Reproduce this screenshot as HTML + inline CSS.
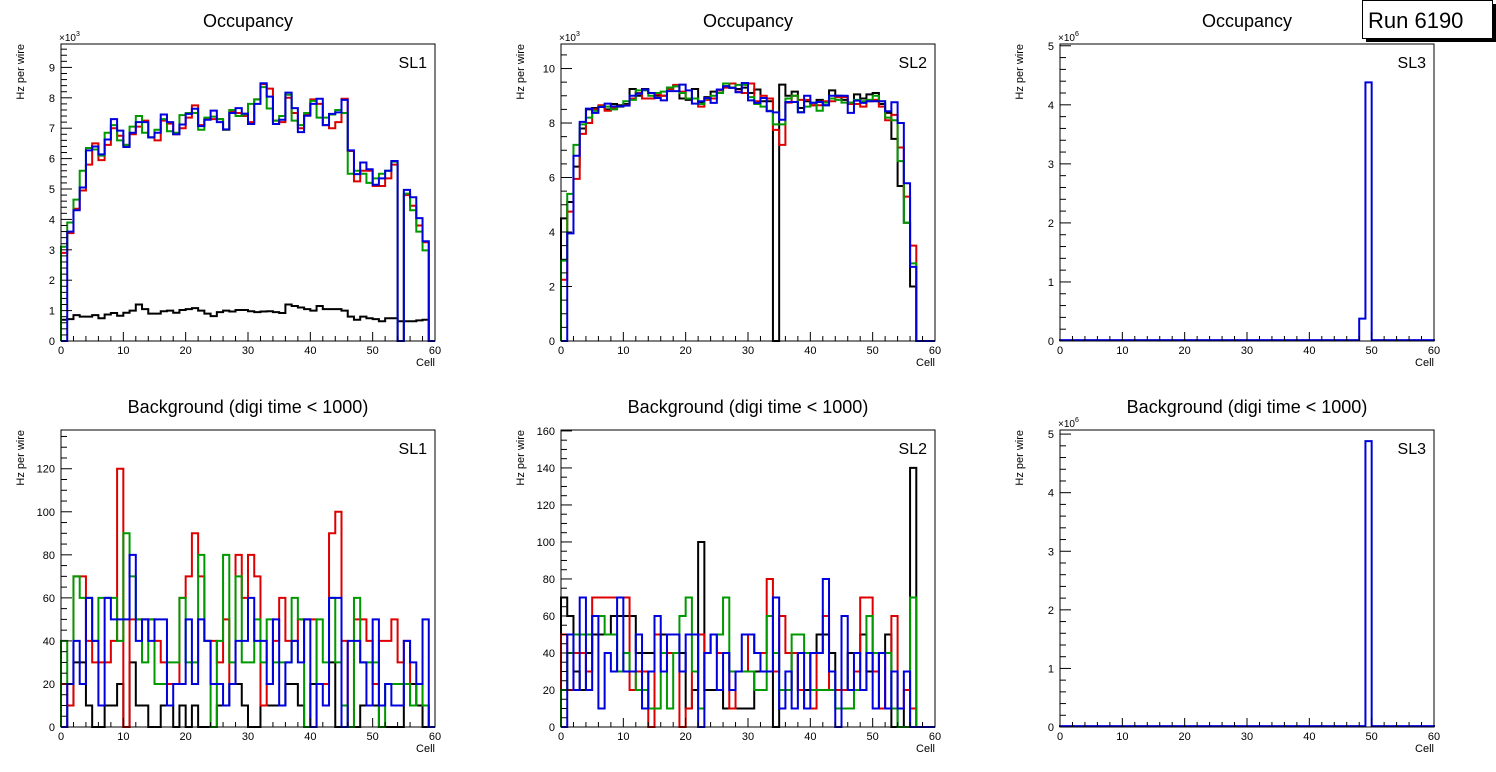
<!DOCTYPE html>
<html><head><meta charset="utf-8"><style>
html,body{margin:0;padding:0;background:#fff;}
svg{display:block;font-family:"Liberation Sans",Arial,sans-serif;}
</style></head><body>
<svg id="c" width="1496" height="772" viewBox="0 0 1496 772" xmlns="http://www.w3.org/2000/svg"></svg>
<script>
// ---- data (bin values, cells 0..59) ----
const cells = Array.from({length:60},(_,i)=>i);
const xTickLabels = ["0","10","20","30","40","50","60"];
// top-left SL1 occupancy (x10^3)
const occSL1Black = [0.7,0.72,0.85,0.8,0.8,0.85,0.75,0.87,0.92,0.83,0.93,1.0,1.2,1.05,0.9,0.9,0.98,1.0,0.93,1.02,1.05,1.08,1.0,0.9,0.82,0.95,1.0,0.97,1.02,1.02,0.98,0.95,0.97,0.98,0.95,0.92,1.2,1.15,1.1,1.05,1.0,1.15,1.05,1.05,1.05,1.0,0.8,0.7,0.8,0.75,0.72,0.65,0.75,0.75,0.65,0.65,0.65,0.68,0.7,0];
const occSL1Red = [2.9,3.55,4.35,4.95,5.8,6.5,5.95,6.45,7.0,6.75,6.45,6.8,7.05,7.25,6.7,6.6,7.25,7.15,6.8,7.0,7.35,7.75,7.1,7.3,7.3,7.3,6.95,7.55,7.5,7.4,7.2,7.95,8.45,8.3,7.25,7.2,8.0,7.5,7.0,7.45,7.95,7.8,7.1,7.0,7.2,7.97,6.25,5.25,5.6,5.6,5.1,5.1,5.35,5.8,0,4.8,4.45,3.8,3.25,0];
const occSL1Green = [3.1,3.9,4.65,5.6,6.35,6.3,6.1,6.85,7.1,6.6,6.45,7.05,7.4,6.85,6.7,6.95,7.3,6.9,6.85,7.43,7.5,7.5,6.95,7.35,7.38,7.3,6.95,7.6,7.4,7.45,7.8,7.95,8.35,7.65,7.25,7.4,8.1,7.25,7.1,7.5,7.9,7.35,7.35,7.45,7.6,7.5,5.5,5.6,5.5,5.2,5.35,5.5,5.6,5.9,0,4.85,4.3,3.6,2.98,0];
const occSL1Blue = [0,3.6,4.3,5.05,6.27,6.4,6.14,6.63,7.3,6.92,6.38,6.85,7.2,7.2,6.7,6.85,7.45,7.2,6.8,7.12,7.47,7.64,7.07,7.28,7.58,7.2,6.96,7.5,7.66,7.48,7.14,7.8,8.48,8.04,7.14,7.28,8.17,7.66,6.87,7.41,7.8,7.97,7.1,7.47,7.52,7.93,6.27,5.49,5.87,5.65,5.14,5.35,5.6,5.92,0,4.97,4.73,4.04,3.28,0];
// top-middle SL2 occupancy (x10^3)
const occSL2Black = [4.5,5.1,6.4,7.8,8.5,8.55,8.6,8.5,8.7,8.65,8.7,9.25,9.0,9.25,9.1,9.0,9.0,9.3,9.35,8.9,8.85,9.25,8.75,8.95,9.15,9.2,9.35,9.3,9.25,9.3,9.1,9.23,8.8,8.8,0,9.41,9.0,9.15,8.55,8.8,8.65,8.85,8.65,9.2,9.0,8.85,8.75,9.05,8.9,9.05,9.1,8.7,8.37,7.42,5.69,4.34,2.0,0,0,0];
const occSL2Red = [2.25,4.75,5.95,7.6,8.0,8.5,8.65,8.45,8.55,8.6,8.65,8.9,9.1,8.9,8.9,9.05,9.0,9.25,9.4,9.15,8.9,8.9,8.6,8.85,8.9,9.2,9.3,9.45,9.15,9.1,9.45,8.8,9.0,8.9,7.75,7.2,8.75,9.0,8.85,8.85,8.65,8.65,8.8,8.8,8.95,8.95,8.7,8.7,8.6,8.8,8.85,8.6,8.1,8.3,7.1,5.3,3.5,0,0,0];
const occSL2Green = [2.95,5.4,7.2,7.95,8.2,8.45,8.6,8.6,8.5,8.6,8.8,8.85,9.2,9.2,9.0,9.1,9.15,9.3,9.35,9.1,8.9,8.9,8.7,8.9,9.0,9.1,9.45,9.3,9.4,9.4,8.95,8.7,8.6,8.45,7.95,7.95,8.9,9.0,8.4,8.6,8.75,8.45,8.75,8.9,8.85,8.75,8.75,8.85,8.8,8.85,9.0,8.8,8.2,8.1,6.6,4.34,2.85,0,0,0];
const occSL2Blue = [0,3.95,6.8,8.04,8.53,8.37,8.59,8.71,8.61,8.61,8.64,9.0,9.08,9.23,9.1,8.92,8.83,9.17,9.17,9.41,9.2,8.71,8.8,8.92,8.74,9.23,9.35,9.29,9.13,9.47,8.83,8.74,8.92,8.43,8.39,8.12,8.77,8.77,8.39,9.0,8.74,8.77,8.65,9.0,9.0,9.0,8.37,8.82,8.74,8.8,8.8,8.8,8.43,8.76,8.0,5.79,2.72,0,0,0];
// top-right SL3 occupancy (x10^6)
const occSL3Blue = [0.015,0.015,0.015,0.015,0.015,0.015,0.015,0.015,0.015,0.015,0.015,0.015,0.015,0.015,0.015,0.015,0.015,0.015,0.015,0.015,0.015,0.015,0.015,0.015,0.015,0.015,0.015,0.015,0.015,0.015,0.015,0.015,0.015,0.015,0.015,0.015,0.015,0.015,0.015,0.015,0.015,0.015,0.015,0.015,0.015,0.015,0.015,0.015,0.38,4.38,0.015,0.015,0.015,0.015,0.015,0.015,0.015,0.015,0.015,0.015];
// bottom-left SL1 background
const bkgSL1Black = [0,10,30,30,10,0,0,10,10,20,0,30,10,10,0,0,10,10,0,10,0,10,0,0,0,10,10,20,20,10,0,0,10,10,10,10,20,20,10,0,20,20,20,30,0,0,0,0,10,10,10,0,0,0,0,20,20,10,0,0];
const bkgSL1Red = [20,10,70,70,40,30,30,30,40,120,0,50,50,50,50,40,30,20,20,60,70,90,70,40,40,30,50,20,80,60,80,70,10,20,40,60,40,40,50,50,50,20,20,90,100,40,0,50,50,40,20,40,40,50,30,40,10,20,10,0];
const bkgSL1Green = [40,20,70,60,60,40,60,60,60,40,90,70,50,30,50,20,20,30,30,60,30,30,80,40,0,40,80,30,70,30,30,50,30,50,30,30,30,60,50,0,0,50,30,60,30,10,0,60,30,30,30,0,20,20,20,20,10,20,10,0];
const bkgSL1Blue = [0,20,40,20,60,40,10,60,50,50,50,80,40,50,40,50,50,10,20,20,50,20,50,40,20,20,10,20,40,40,60,40,40,20,50,10,30,40,30,50,0,20,10,60,60,0,40,40,30,10,50,10,20,10,10,40,30,20,50,0];
// bottom-middle SL2 background
const bkgSL2Black = [70,60,30,20,40,50,50,50,60,60,60,60,40,40,40,50,50,50,50,40,10,20,100,20,20,20,10,10,10,10,10,30,30,30,0,20,20,40,20,20,40,50,50,40,20,20,40,40,50,30,30,40,50,0,10,0,140,0,0,0];
const bkgSL2Red = [50,20,40,40,30,70,70,70,70,70,70,20,30,30,0,50,40,40,40,0,10,30,50,40,50,40,40,10,30,30,50,40,40,80,30,60,40,40,20,10,10,40,60,20,20,20,20,30,70,70,30,10,40,60,10,20,10,0,0,0];
const bkgSL2Green = [20,40,50,50,50,60,60,50,50,30,40,30,20,20,10,10,40,10,40,60,70,30,10,40,50,50,70,30,30,30,30,20,20,60,40,20,20,50,50,40,20,20,20,20,10,10,10,20,20,60,40,40,40,10,0,0,70,0,0,0];
const bkgSL2Blue = [0,50,20,70,20,60,10,40,30,70,30,30,50,10,30,60,30,50,50,30,50,50,0,40,50,20,40,20,30,50,50,40,30,30,70,10,30,10,40,10,40,40,80,30,0,60,20,40,20,40,10,40,10,30,10,30,0,0,0,0];
// bottom-right SL3 background (x10^6)
const bkgSL3Blue = [0.015,0.015,0.015,0.015,0.015,0.015,0.015,0.015,0.015,0.015,0.015,0.015,0.015,0.015,0.015,0.015,0.015,0.015,0.015,0.015,0.015,0.015,0.015,0.015,0.015,0.015,0.015,0.015,0.015,0.015,0.015,0.015,0.015,0.015,0.015,0.015,0.015,0.015,0.015,0.015,0.015,0.015,0.015,0.015,0.015,0.015,0.015,0.015,0.015,4.88,0.015,0.015,0.015,0.015,0.015,0.015,0.015,0.015,0.015,0.015];

const NS="http://www.w3.org/2000/svg";
const svg=document.getElementById('c');
function mk(tag,attrs,parent){const e=document.createElementNS(NS,tag);for(const k in attrs)e.setAttribute(k,attrs[k]);(parent||svg).appendChild(e);return e;}
function txt(s,attrs,parent){const e=mk('text',attrs,parent);e.textContent=s;return e;}

const panels=[
 {id:'occ-sl1',x0:61,x1:435,yT:44,yB:341,ymax:9.77,maj:1,div:5,exp:'3',title:'Occupancy',sl:'SL1',series:[occSL1Black,occSL1Red,occSL1Green,occSL1Blue]},
 {id:'occ-sl2',x0:561,x1:935,yT:44,yB:341,ymax:10.9,maj:2,div:4,exp:'3',title:'Occupancy',sl:'SL2',series:[occSL2Black,occSL2Red,occSL2Green,occSL2Blue]},
 {id:'occ-sl3',x0:1060,x1:1434,yT:44,yB:341,ymax:5.03,maj:1,div:5,exp:'6',title:'Occupancy',sl:'SL3',series:[null,null,null,occSL3Blue]},
 {id:'bkg-sl1',x0:61,x1:435,yT:430,yB:727,ymax:138,maj:20,div:4,exp:null,title:'Background (digi time < 1000)',sl:'SL1',series:[bkgSL1Black,bkgSL1Red,bkgSL1Green,bkgSL1Blue]},
 {id:'bkg-sl2',x0:561,x1:935,yT:430,yB:727,ymax:160.5,maj:20,div:4,exp:null,title:'Background (digi time < 1000)',sl:'SL2',series:[bkgSL2Black,bkgSL2Red,bkgSL2Green,bkgSL2Blue]},
 {id:'bkg-sl3',x0:1060,x1:1434,yT:430,yB:727,ymax:5.07,maj:1,div:5,exp:'6',title:'Background (digi time < 1000)',sl:'SL3',series:[null,null,null,bkgSL3Blue]}
];
const colors=['#000000','#dd0000','#009900','#0000dd'];
const cnames=['black','red','green','blue'];

panels.forEach(p=>{
  const g=mk('g',{});
  
  
  const X=v=>p.x0+(v/60)*(p.x1-p.x0);
  const Y=v=>p.yB-(Math.min(v,p.ymax)/p.ymax)*(p.yB-p.yT);
  const t=txt(p.title,{x:(p.x0+p.x1)/2,y:p.yT-17,'font-size':18,'text-anchor':'middle',fill:'#000'},g);
  
  
  // series
  p.series.forEach((arr,si)=>{
    if(!arr)return;
    let d='M'+X(0)+','+Y(0);
    arr.forEach((v,i)=>{d+=' L'+X(cells[i])+','+Y(v)+' L'+X(cells[i]+1)+','+Y(v);});
    d+=' L'+X(60)+','+Y(0);
    const path=mk('path',{d:d,fill:'none',stroke:colors[si],'stroke-width':2,'stroke-linejoin':'miter'},g);
    
    
  });
  // frame
  const fr=mk('rect',{x:p.x0,y:p.yT,width:p.x1-p.x0,height:p.yB-p.yT,fill:'none',stroke:'#000','stroke-width':1},g);
  
  
  // x ticks
  for(let v=0;v<=60;v+=2){
    const L=(v%10===0)?9:5;
    mk('line',{x1:X(v),x2:X(v),y1:p.yB,y2:p.yB-L,stroke:'#000','stroke-width':1},g);
  }
  xTickLabels.forEach((s,i)=>{
    const tl=txt(s,{x:X(i*10),y:p.yB+13,'font-size':11,'text-anchor':'middle'},g);
    
    
  });
  const xl=txt('Cell',{x:p.x1,y:p.yB+25,'font-size':11,'text-anchor':'end'},g);
  
  
  // y ticks
  const step=p.maj/p.div;
  for(let k=0;k*step<=p.ymax+1e-9;k++){
    const v=k*step;const major=(k%p.div===0);
    mk('line',{x1:p.x0,x2:p.x0+(major?11:6),y1:Y(v),y2:Y(v),stroke:'#000','stroke-width':1},g);
    if(major){
      const yl=txt(String(Math.round(v)),{x:p.x0-6,y:Y(v)+4,'font-size':11,'text-anchor':'end'},g);
      
      
    }
  }
  const yt=txt('Hz per wire',{x:0,y:0,'font-size':11,'text-anchor':'end',transform:'translate('+(p.x0-37)+','+(p.yT)+') rotate(-90)'},g);
  
  
  if(p.exp){
    const ex=txt('\u00d710',{x:p.x0-2,y:p.yT-3,'font-size':10},g);
    const ts=mk('tspan',{'font-size':7,dy:-5},ex);ts.textContent=p.exp;
    
    
  }
  const sl=txt(p.sl,{x:p.x1-8,y:p.yT+24,'font-size':16,'text-anchor':'end'},g);
  
  
});
// run box
const rb=mk('g',{});


mk('rect',{x:1366,y:4,width:130,height:38,fill:'#000'},rb);
mk('rect',{x:1362.5,y:0.5,width:130,height:38,fill:'#fff',stroke:'#000','stroke-width':1},rb);
const rt=txt('Run 6190',{x:1368,y:28,'font-size':22},rb);


</script>
</body></html>
